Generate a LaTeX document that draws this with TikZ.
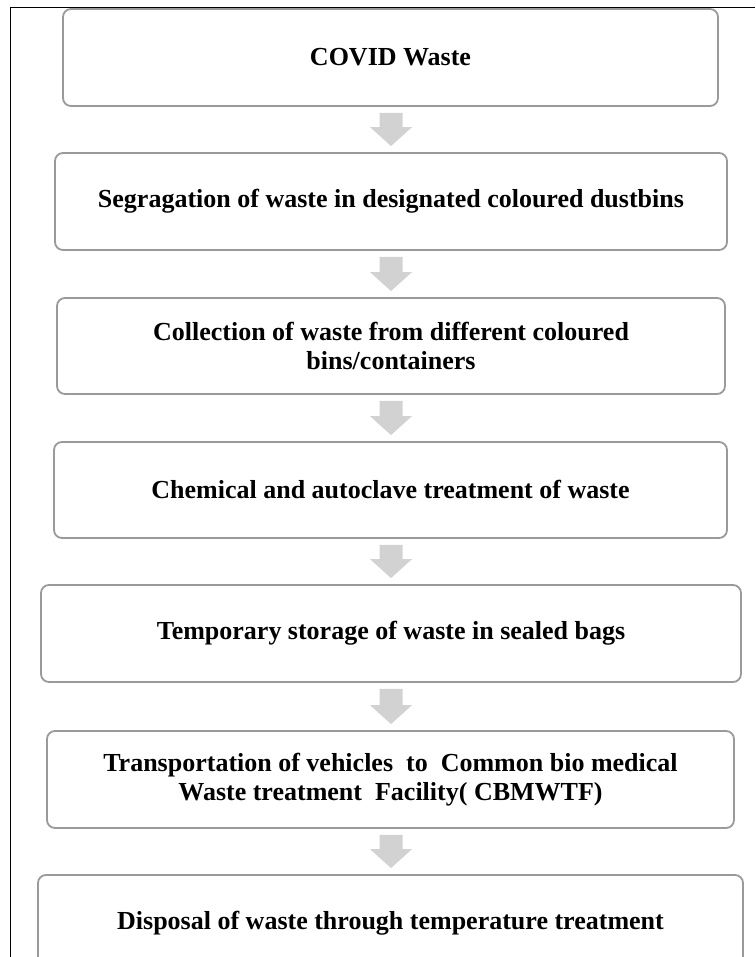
\documentclass[tikz,border=0pt]{standalone}
\usepackage{fontspec}
\setmainfont{Liberation Serif}
\usetikzlibrary{calc}
\definecolor{boxline}{HTML}{9A9A9A}
\definecolor{arrowgray}{HTML}{D2D2D2}
\tikzset{
  stepbox/.style={draw=boxline, line width=1.8pt, rounded corners=8pt, fill=white,
    align=center, inner sep=0pt, font=\fontsize{26}{29}\selectfont\bfseries},
  arrowfill/.style={fill=arrowgray, draw=none}
}
\newcommand\flowarrow[2]{%
  \path (#1.south -| axis) ++(0,6) coordinate (#1t);
  \path (#2.north -| axis) ++(0,-6) coordinate (#1p);
  \fill[arrowfill] ($(#1t)+(-11.5,0)$) -- ($(#1t)+(11.5,0)$) -- ($(#1p)+(11.5,-19)$)
    -- ($(#1p)+(21,-19)$) -- (#1p) -- ($(#1p)+(-21,-19)$) -- ($(#1p)+(-11.5,-19)$) -- cycle;
}
\begin{document}
\begin{tikzpicture}[x=1pt,y=-1pt]
\useasboundingbox (0,0) rectangle (755,957);
\clip (0,0) rectangle (755,957);
\draw[black, line width=1.2pt] (10.5,957) -- (10.5,7.5) -- (755,7.5);
\coordinate (axis) at (391,0);
\node[stepbox, minimum width=655pt, minimum height=97pt] (b1) at (390.5,57.5) {COVID Waste};
\node[stepbox, minimum width=672pt, minimum height=97pt] (b2) at (391,201.5) {Segragation of waste in designated coloured dustbins};
\node[stepbox, minimum width=668pt, minimum height=96pt] (b3) at (391,346) {Collection of waste from different coloured\\bins/containers};
\node[stepbox, minimum width=673pt, minimum height=96pt] (b4) at (390.5,490) {Chemical and autoclave treatment of waste};
\node[stepbox, minimum width=700pt, minimum height=97pt] (b5) at (391,633.5) {Temporary storage of waste in sealed bags};
\node[stepbox, minimum width=687pt, minimum height=97pt] (b6) at (390.5,779.5) {Transportation of vehicles\ \ to\ \ Common bio medical\\Waste treatment\ \ Facility( CBMWTF)};
\node[stepbox, minimum width=705pt, minimum height=97pt] (b7) at (390.5,923.5) {Disposal of waste through temperature treatment};
\flowarrow{b1}{b2}
\flowarrow{b2}{b3}
\flowarrow{b3}{b4}
\flowarrow{b4}{b5}
\flowarrow{b5}{b6}
\flowarrow{b6}{b7}
\end{tikzpicture}
\end{document}
